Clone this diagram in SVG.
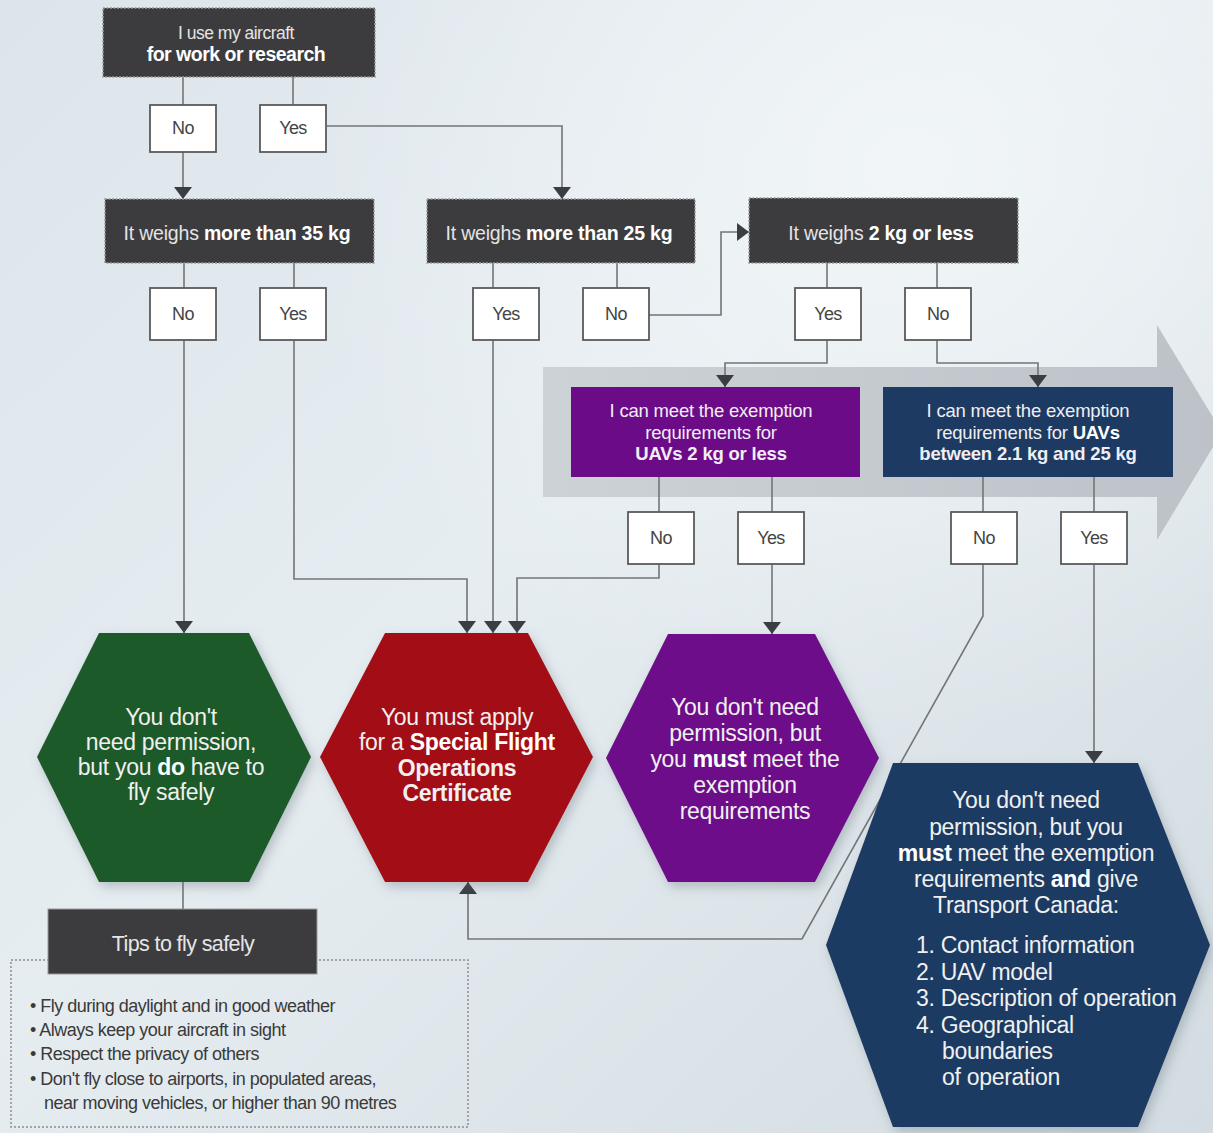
<svg xmlns="http://www.w3.org/2000/svg" width="1213" height="1133" viewBox="0 0 1213 1133">
<defs>
<linearGradient id="bg" x1="0" y1="0" x2="1" y2="1">
<stop offset="0" stop-color="#dde5eb"/>
<stop offset="0.45" stop-color="#e6edf1"/>
<stop offset="1" stop-color="#d3dce2"/>
</linearGradient>
<radialGradient id="glow" cx="0.75" cy="0.15" r="0.5">
<stop offset="0" stop-color="#f2f6f8" stop-opacity="0.9"/>
<stop offset="1" stop-color="#f2f6f8" stop-opacity="0"/>
</radialGradient>
<linearGradient id="band" x1="0" y1="0" x2="1" y2="0">
<stop offset="0" stop-color="#cdd2d6"/>
<stop offset="1" stop-color="#bcc2c8"/>
</linearGradient>
<filter id="shadow" x="-20%" y="-20%" width="140%" height="140%">
<feDropShadow dx="3" dy="5" stdDeviation="6" flood-color="#5a6670" flood-opacity="0.35"/>
</filter>
<marker id="arr" viewBox="0 0 12 18" refX="12" refY="9" markerWidth="12" markerHeight="18" markerUnits="userSpaceOnUse" orient="auto">
<path d="M0,0 L12,9 L0,18 z" fill="#3a3d41"/>
</marker>
<style>
text{font-family:"Liberation Sans",Arial,sans-serif}
.dark{fill:#3c3c3e;stroke:#9a9a9a;stroke-width:1.5;stroke-dasharray:2 1.5}
.dt{fill:#e4e4e4;font-size:19.5px;text-anchor:middle;letter-spacing:-0.2px}
.b{font-weight:bold;fill:#ffffff}
.yn{fill:#ffffff;stroke:#5a5a5a;stroke-width:1.8}
.ynt{fill:#444;font-size:18px;text-anchor:middle;letter-spacing:-0.6px}
.conn{fill:none;stroke:#727579;stroke-width:1.6}
.ht{fill:#f0f0f0;font-size:23px;text-anchor:middle;letter-spacing:-0.3px}
.bt{fill:#f0eef2;font-size:18.5px;text-anchor:middle;letter-spacing:-0.2px}
.tip{fill:#3a3a3a;font-size:18px;letter-spacing:-0.5px}
</style>
</defs>
<rect width="1213" height="1133" fill="url(#bg)"/>
<rect width="1213" height="1133" fill="url(#glow)"/>

<!-- background arrow band -->
<polygon points="543,367 1157,367 1157,325 1222,432 1157,540 1157,497 543,497" fill="url(#band)"/>

<!-- connectors -->
<g id="connectors">
<path class="conn" d="M183,77 V105"/>
<path class="conn" d="M293,77 V105"/>
<path class="conn" d="M183,152 V199" marker-end="url(#arr)"/>
<path class="conn" d="M327,126 H562 V199" marker-end="url(#arr)"/>
<path class="conn" d="M184,263 V288"/>
<path class="conn" d="M294,263 V288"/>
<path class="conn" d="M493,263 V288"/>
<path class="conn" d="M617,263 V288"/>
<path class="conn" d="M827,263 V288"/>
<path class="conn" d="M937,263 V288"/>
<path class="conn" d="M649,315 H721 V232 H749" marker-end="url(#arr)"/>
<path class="conn" d="M827,340 V363 H725 V387" marker-end="url(#arr)"/>
<path class="conn" d="M937,340 V363 H1038 V387" marker-end="url(#arr)"/>
<path class="conn" d="M184,340 V633" marker-end="url(#arr)"/>
<path class="conn" d="M294,340 V579 H467 V633" marker-end="url(#arr)"/>
<path class="conn" d="M493,340 V633" marker-end="url(#arr)"/>
<path class="conn" d="M659,477 V512"/>
<path class="conn" d="M772,477 V512"/>
<path class="conn" d="M983,477 V512"/>
<path class="conn" d="M1094,477 V512"/>
<path class="conn" d="M659,564 V578 H517 V633" marker-end="url(#arr)"/>
<path class="conn" d="M772,564 V634" marker-end="url(#arr)"/>
<path class="conn" d="M1094,564 V763" marker-end="url(#arr)"/>
<path class="conn" d="M983,564 V616 L802,939 H468 V882" marker-end="url(#arr)"/>
<path class="conn" d="M183,882 V909"/>
</g>

<!-- question boxes -->
<g id="q-work">
<rect class="dark" x="103" y="8" width="272" height="69"/>
<text class="dt" x="236" y="39" style="font-size:17.5px;letter-spacing:-0.5px">I use my aircraft</text>
<text class="dt b" x="236" y="61" style="letter-spacing:-0.5px">for work or research</text>
</g>
<g id="q-35kg">
<rect class="dark" x="105" y="199" width="269" height="64"/>
<text class="dt" x="237" y="240">It weighs <tspan class="b">more than 35 kg</tspan></text>
</g>
<g id="q-25kg">
<rect class="dark" x="427" y="199" width="268" height="64"/>
<text class="dt" x="559" y="240">It weighs <tspan class="b">more than 25 kg</tspan></text>
</g>
<g id="q-2kg">
<rect class="dark" x="749" y="198" width="269" height="65"/>
<text class="dt" x="881" y="240">It weighs <tspan class="b">2 kg or less</tspan></text>
</g>
<g id="q-exempt-small">
<rect x="571" y="387" width="289" height="90" fill="#6c0b88"/>
<text class="bt" x="711" y="417">I can meet the exemption</text>
<text class="bt" x="711" y="439">requirements for</text>
<text class="bt b" x="711" y="460">UAVs 2 kg or less</text>
</g>
<g id="q-exempt-medium">
<rect x="883" y="387" width="290" height="90" fill="#1c3a62"/>
<text class="bt" x="1028" y="417">I can meet the exemption</text>
<text class="bt" x="1028" y="439">requirements for <tspan class="b">UAVs</tspan></text>
<text class="bt b" x="1028" y="460">between 2.1 kg and 25 kg</text>
</g>

<!-- yes/no labels -->
<g id="l-work-no"><rect class="yn" x="150" y="105" width="66" height="47"/><text class="ynt" x="183" y="134">No</text></g>
<g id="l-work-yes"><rect class="yn" x="260" y="105" width="66" height="47"/><text class="ynt" x="293" y="134">Yes</text></g>
<g id="l-35-no"><rect class="yn" x="150" y="288" width="66" height="52"/><text class="ynt" x="183" y="320">No</text></g>
<g id="l-35-yes"><rect class="yn" x="260" y="288" width="66" height="52"/><text class="ynt" x="293" y="320">Yes</text></g>
<g id="l-25-yes"><rect class="yn" x="473" y="288" width="66" height="52"/><text class="ynt" x="506" y="320">Yes</text></g>
<g id="l-25-no"><rect class="yn" x="583" y="288" width="66" height="52"/><text class="ynt" x="616" y="320">No</text></g>
<g id="l-2-yes"><rect class="yn" x="795" y="288" width="66" height="52"/><text class="ynt" x="828" y="320">Yes</text></g>
<g id="l-2-no"><rect class="yn" x="905" y="288" width="66" height="52"/><text class="ynt" x="938" y="320">No</text></g>
<g id="l-ex1-no"><rect class="yn" x="628" y="512" width="66" height="52"/><text class="ynt" x="661" y="544">No</text></g>
<g id="l-ex1-yes"><rect class="yn" x="738" y="512" width="66" height="52"/><text class="ynt" x="771" y="544">Yes</text></g>
<g id="l-ex2-no"><rect class="yn" x="951" y="512" width="66" height="52"/><text class="ynt" x="984" y="544">No</text></g>
<g id="l-ex2-yes"><rect class="yn" x="1061" y="512" width="66" height="52"/><text class="ynt" x="1094" y="544">Yes</text></g>

<!-- outcome hexagons -->
<g id="o-fly-safely">
<polygon points="37,757 99,633 249,633 311,757 249,882 99,882" fill="#1d5a2b" filter="url(#shadow)"/>
<text class="ht" x="171" y="725">You don't</text>
<text class="ht" x="171" y="750">need permission,</text>
<text class="ht" x="171" y="775">but you <tspan class="b">do</tspan> have to</text>
<text class="ht" x="171" y="800">fly safely</text>
</g>
<g id="o-sfoc">
<polygon points="320,757 385,633 528,633 593,757 528,882 385,882" fill="#a20d12" filter="url(#shadow)"/>
<text class="ht" x="457" y="725">You must apply</text>
<text class="ht" x="457" y="750">for a <tspan class="b">Special Flight</tspan></text>
<text class="ht b" x="457" y="776">Operations</text>
<text class="ht b" x="457" y="801">Certificate</text>
</g>
<g id="o-exempt-small">
<polygon points="606,758 668,634 815,634 879,758 815,882 668,882" fill="#6d0b89" filter="url(#shadow)"/>
<text class="ht" x="745" y="715">You don't need</text>
<text class="ht" x="745" y="741">permission, but</text>
<text class="ht" x="745" y="767">you <tspan class="b">must</tspan> meet the</text>
<text class="ht" x="745" y="793">exemption</text>
<text class="ht" x="745" y="819">requirements</text>
</g>
<g id="o-exempt-medium">
<polygon points="826,945 893,763 1138,763 1210,945 1138,1127 893,1127" fill="#1c3a62" filter="url(#shadow)"/>
<text class="ht" x="1026" y="808">You don't need</text>
<text class="ht" x="1026" y="835">permission, but you</text>
<text class="ht" x="1026" y="861"><tspan class="b">must</tspan> meet the exemption</text>
<text class="ht" x="1026" y="887">requirements <tspan class="b">and</tspan> give</text>
<text class="ht" x="1026" y="913">Transport Canada:</text>
<text class="ht" x="916" y="953" style="text-anchor:start">1. Contact information</text>
<text class="ht" x="916" y="980" style="text-anchor:start">2. UAV model</text>
<text class="ht" x="916" y="1006" style="text-anchor:start">3. Description of operation</text>
<text class="ht" x="916" y="1033" style="text-anchor:start">4. Geographical</text>
<text class="ht" x="942" y="1059" style="text-anchor:start">boundaries</text>
<text class="ht" x="942" y="1085" style="text-anchor:start">of operation</text>
</g>

<!-- tips -->
<g id="tips">
<rect x="11" y="960" width="457" height="167" fill="none" stroke="#8a8d90" stroke-width="1.5" stroke-dasharray="2 2"/>
<rect x="48" y="909" width="269" height="65" fill="#3c3c3e" stroke="#9a9a9a" stroke-width="1"/>
<text x="183" y="951" style="fill:#e6e6e6;font-size:21.5px;text-anchor:middle;letter-spacing:-0.6px">Tips to fly safely</text>
<text class="tip" x="30" y="1012">• Fly during daylight and in good weather</text>
<text class="tip" x="30" y="1036">• Always keep your aircraft in sight</text>
<text class="tip" x="30" y="1060">• Respect the privacy of others</text>
<text class="tip" x="30" y="1085">• Don't fly close to airports, in populated areas,</text>
<text class="tip" x="44" y="1109">near moving vehicles, or higher than 90 metres</text>
</g>
</svg>
